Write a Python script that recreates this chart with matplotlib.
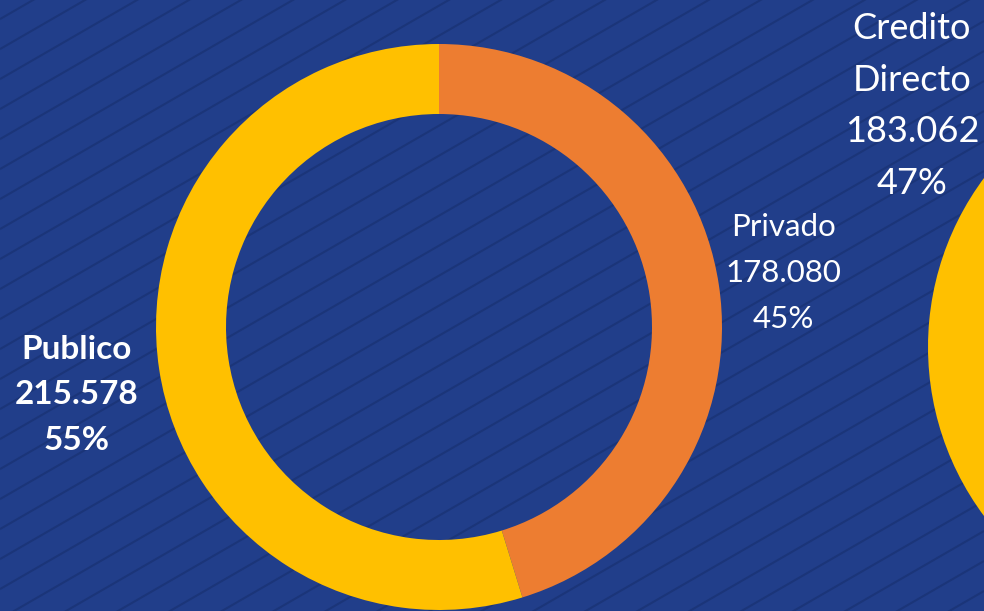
import numpy as np
import matplotlib
matplotlib.use("Agg")
import matplotlib.pyplot as plt

# ---- data ----
main_labels = ["Privado", "Publico"]
main_values = [178080, 215578]
main_colors = ["#ED7D31", "#FFC000"]

side_labels = ["Otro", "Credito\nDirecto"]
side_values = [206400, 183062]   # first slice is off-screen (estimated)
side_colors = ["#ED7D31", "#FFC000"]

W, H = 984, 611
BG = "#213E8A"
STRIPE = "#1B3579"

fig = plt.figure(figsize=(W / 100, H / 100), dpi=100)
fig.patch.set_facecolor(BG)
ax = fig.add_axes([0, 0, 1, 1])
ax.set_facecolor(BG)
ax.set_xlim(0, W)
ax.set_ylim(0, H)
ax.axis("off")

# diagonal stripe texture
slope = np.tan(np.radians(30))
for c in np.arange(-W * slope - 40, H + 40, 30):
    xs = np.array([0, W])
    ax.plot(xs, c + slope * xs, color=STRIPE, lw=1.5, zorder=0, solid_capstyle="butt")

def fmt(v):
    return f"{v:,}".replace(",", ".")

R, WIDTH = 283, 70

# main donut
ax.pie(main_values, colors=main_colors, startangle=90, counterclock=False,
       center=(439, H - 327), radius=R, frame=True,
       wedgeprops=dict(width=WIDTH, linewidth=0))
# side donut (partially visible)
ax.pie(side_values, colors=side_colors, startangle=90, counterclock=False,
       center=(1211, H - 347), radius=R, frame=True,
       wedgeprops=dict(width=WIDTH, linewidth=0))
ax.set_xlim(0, W)
ax.set_ylim(0, H)
ax.set_aspect("auto")
ax.axis("off")

tot = sum(main_values)
pct = [round(v / tot * 100) for v in main_values]
stot = sum(side_values)
spct = [round(v / stot * 100) for v in side_values]

font = ["Lato", "DejaVu Sans"]
ax.text(783, H - 273, f"{main_labels[0]}\n{fmt(main_values[0])}\n{pct[0]}%",
        ha="center", va="center", color="white", fontsize=22.5, family=font,
        linespacing=1.78, zorder=5)
ax.text(77, H - 395, f"{main_labels[1]}\n{fmt(main_values[1])}\n{pct[1]}%",
        ha="center", va="center", color="white", fontsize=24, family=font,
        fontweight="bold", linespacing=1.68, zorder=5)
ax.text(912, H - 106, f"{side_labels[1]}\n{fmt(side_values[1])}\n{spct[1]}%",
        ha="center", va="center", color="white", fontsize=26, family=font,
        linespacing=1.7, zorder=5)

fig.savefig("out.png", dpi=100, facecolor=BG)
